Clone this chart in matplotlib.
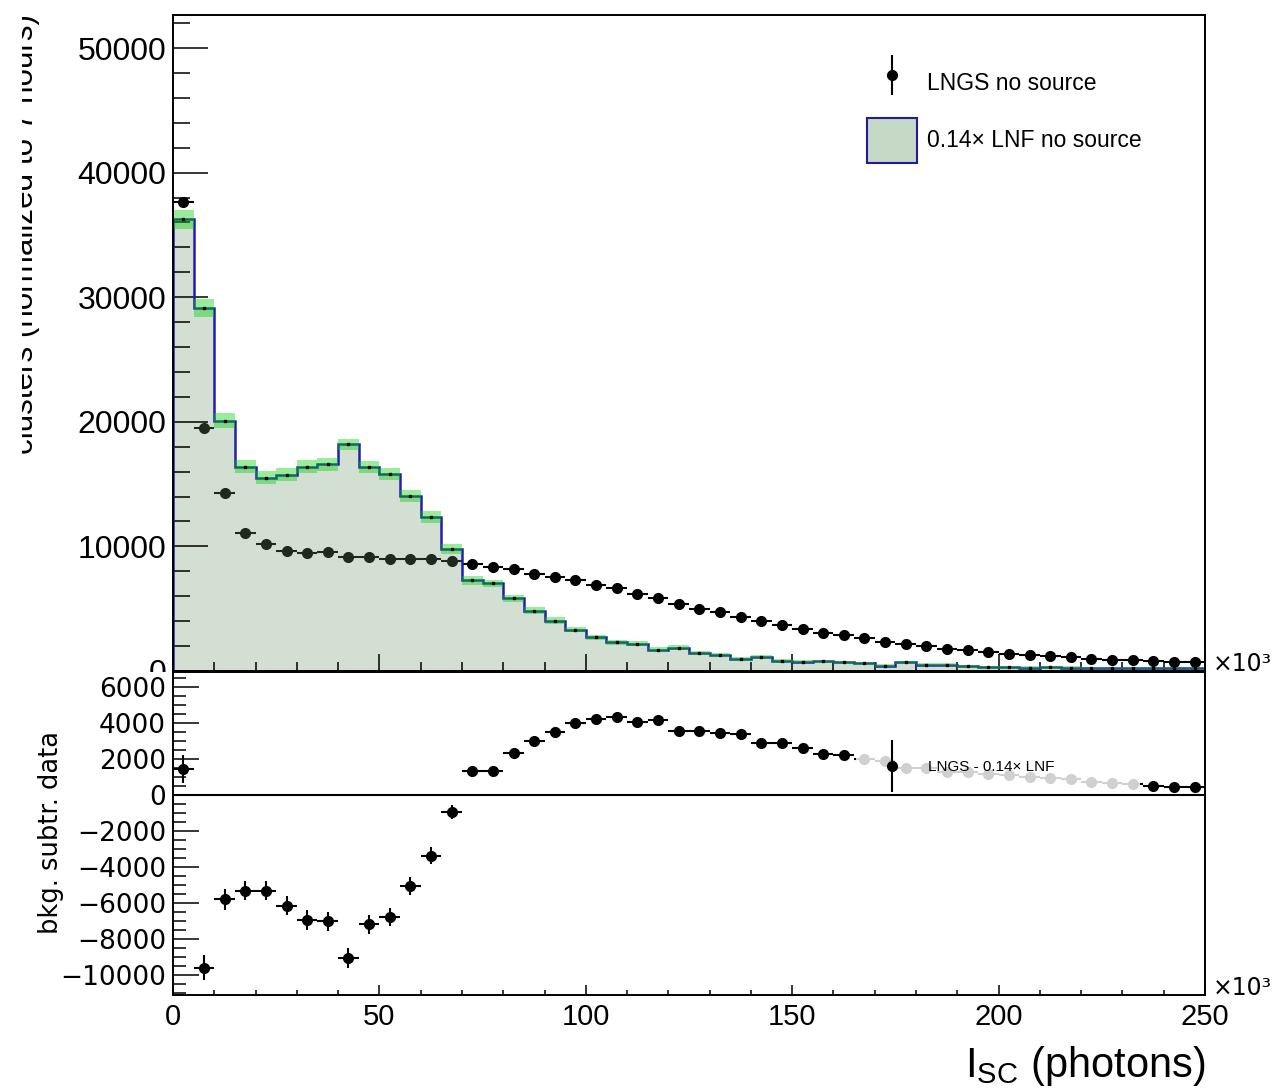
import numpy as np
import matplotlib
matplotlib.use('Agg')
import matplotlib.pyplot as plt
import matplotlib.patches as mpatches
from matplotlib.container import ErrorbarContainer
from matplotlib.legend_handler import HandlerErrorbar
from matplotlib.ticker import MultipleLocator

plt.rcParams['font.family'] = ['Liberation Sans', 'DejaVu Sans']
plt.rcParams['mathtext.default'] = 'regular'

# binning: 50 bins of 5 (x10^3 photons) from 0 to 250
edges = np.arange(0, 255, 5)
centers = edges[:-1] + 2.5

# LNGS no source (data points)
lngs = np.array([37680, 19520, 14290, 11090, 10210, 9620, 9460, 9570, 9140, 9170,
                 9010, 8980, 8980, 8850, 8600, 8350, 8160, 7810, 7520, 7300,
                 6900, 6640, 6210, 5890, 5410, 4980, 4740, 4370, 4000, 3700,
                 3380, 3030, 2900, 2640, 2320, 2190, 2000, 1780, 1650, 1490,
                 1380, 1280, 1230, 1150, 960, 900, 860, 780, 720, 700])

# 0.14x LNF no source (histogram)
lnf = np.array([36240, 29120, 20080, 16400, 15520, 15760, 16400, 16590, 18210, 16350,
                15790, 14030, 12350, 9790, 7280, 7040, 5840, 4830, 4050, 3310,
                2700, 2320, 2170, 1710, 1870, 1440, 1280, 990, 1120, 830,
                760, 770, 700, 620, 430, 710, 500, 500, 390, 320,
                290, 280, 300, 280, 240, 230, 250, 260, 260, 240])

# half width of the green error band on the histogram
lnf_band = np.array([770, 710, 590, 540, 510, 500, 510, 510, 450, 480,
                     470, 470, 470, 430, 360, 300, 290, 290, 290, 220,
                     210, 200, 200, 190, 190, 180, 180, 170, 170, 160,
                     150, 150, 140, 140, 130, 130, 130, 120, 120, 120,
                     110, 110, 110, 110, 100, 100, 100, 100, 100, 100])

# vertical errors on the subtracted points
resid_err = np.array([800, 700, 580, 530, 530, 520, 540, 530, 560, 530,
                      510, 480, 460, 400, 300, 290, 290, 290, 290, 230,
                      220, 210, 210, 200, 200, 190, 190, 180, 180, 170,
                      160, 160, 150, 150, 140, 140, 140, 130, 130, 130,
                      120, 120, 120, 120, 110, 110, 110, 110, 110, 110])

resid = lngs - lnf

W, H = 1272, 1090
fig = plt.figure(figsize=(W / 100, H / 100), dpi=100)

def px(x0, y0, x1, y1):
    # pixel box (top-left origin) -> figure fraction rect
    return [x0 / W, 1 - y1 / H, (x1 - x0) / W, (y1 - y0) / H]

ax1 = fig.add_axes(px(173, 15, 1205, 671))
ax2 = fig.add_axes(px(173, 672, 1205, 995), zorder=1)

# ---- top panel ----
ax1.errorbar(centers, lngs, xerr=2.5, fmt='o', ms=7, color='k',
             elinewidth=1.5, capsize=0, zorder=1)
ax1.stairs(lnf, edges, baseline=0, fill=True, color='#679467', alpha=0.29, lw=0, zorder=1.5)
ax1.stairs(lnf, edges, baseline=0, color='#2020a8', lw=1.8, zorder=1.6)
ax1.bar(centers, 2 * lnf_band, bottom=lnf - lnf_band, width=5, color='#00d000',
        alpha=0.4, lw=0, zorder=1.7)
ax1.plot(centers, lnf, 's', ms=2, color='k', zorder=1.8)

ax1.set_xlim(0, 250)
ax1.set_ylim(0, 52650)
ax1.xaxis.set_major_locator(MultipleLocator(50))
ax1.xaxis.set_minor_locator(MultipleLocator(10))
ax1.yaxis.set_major_locator(MultipleLocator(10000))
ax1.yaxis.set_minor_locator(MultipleLocator(2000))
ax1.tick_params(which='both', direction='in', top=False, right=False,
                labelbottom=False, width=1.1)
ax1.tick_params(axis='y', which='major', length=25, labelsize=23, pad=5)
ax1.tick_params(axis='y', which='minor', length=12)
ax1.tick_params(axis='x', which='major', length=12)
ax1.tick_params(axis='x', which='minor', length=6.5)
for s in ax1.spines.values():
    s.set_linewidth(1.4)

h1 = ax1.errorbar([np.nan], [np.nan], yerr=[1], fmt='o', ms=7, color='k', elinewidth=1.5)
p1 = mpatches.Patch(facecolor='#c6d8c6', edgecolor='#1c1c9c', lw=1.5)
ax1.legend([h1, p1], ['LNGS no source', '0.14\u00d7 LNF no source'],
           loc='upper left', bbox_to_anchor=(867 / W, 1 - 60 / H),
           bbox_transform=fig.transFigure, frameon=False, fontsize=16.5,
           handlelength=2.2, handleheight=2.68, handletextpad=0.43,
           labelspacing=0.53, borderpad=0, borderaxespad=0, numpoints=1,
           handler_map={ErrorbarContainer: HandlerErrorbar(yerr_size=0.87)})

# ---- bottom panel ----
ax2.errorbar(centers, resid, xerr=2.5, yerr=resid_err, fmt='o', ms=7, color='k',
             elinewidth=1.5, capsize=0, zorder=2)
ax2.axhline(0, color='k', lw=1.5, zorder=1.5)
ax2.set_xlim(0, 250)
ax2.set_ylim(-11110, 6830)
ax2.xaxis.set_major_locator(MultipleLocator(50))
ax2.xaxis.set_minor_locator(MultipleLocator(10))
ax2.yaxis.set_major_locator(MultipleLocator(2000))
ax2.yaxis.set_minor_locator(MultipleLocator(500))
ax2.tick_params(which='both', direction='in', top=False, right=False, width=1.1)
ax2.tick_params(axis='y', which='major', length=18.7, labelsize=19, pad=5,
                labelfontfamily='DejaVu Sans')
ax2.tick_params(axis='y', which='minor', length=9.4)
ax2.tick_params(axis='x', which='major', length=7.2, labelsize=21, pad=6)
ax2.tick_params(axis='x', which='minor', length=3.6)
for s in ax2.spines.values():
    s.set_linewidth(1.4)

# semi-transparent legend background that greys out the points beneath
ax2.add_patch(mpatches.Rectangle((856 / W, 1 - 793 / H), (1140 - 856) / W, 55 / H,
                                 transform=fig.transFigure, facecolor='white',
                                 alpha=0.82, lw=0, zorder=3))
h2 = ax2.errorbar([np.nan], [np.nan], yerr=[1], fmt='o', ms=7, color='k', elinewidth=1.5)
ax2.legend([h2], ['LNGS - 0.14\u00d7 LNF'], loc='center left',
           bbox_to_anchor=((892 - 23.7) / W, 1 - 767 / H),
           bbox_transform=fig.transFigure, frameon=False, fontsize=11,
           handlelength=3.08, handletextpad=0.8, borderpad=0, borderaxespad=0,
           numpoints=1, handler_map={ErrorbarContainer: HandlerErrorbar(yerr_size=1.7)})

# lower pad covers the bottom half of the top panel's "0" label
fig.add_artist(mpatches.Rectangle((0, 0), 172 / W, (H - 672) / H, transform=fig.transFigure,
                                  facecolor='white', lw=0, zorder=0.5))

# axis titles
fig.text(33 / W, 1 - 14 / H, 'clusters (normalized to 7 hours)', rotation=90,
         rotation_mode='anchor', ha='right', va='baseline', fontsize=22.6)
fig.add_artist(mpatches.Rectangle((0, 0), 22 / W, 1, transform=fig.transFigure,
                                  facecolor='white', lw=0, zorder=10))
fig.text(51 / W, 1 - 833 / H, 'bkg. subtr. data', rotation=90, ha='center',
         va='center', fontsize=18.5, family='DejaVu Sans')
fig.text(1205 / W, 1 - 1077 / H, 'I$_{SC}$ (photons)', ha='right', va='baseline',
         fontsize=30)

# x axis multipliers
fig.text(1213 / W, 1 - 671 / H, '\u00d710\u00b3', ha='left', va='baseline',
         fontsize=17, family='DejaVu Sans')
fig.text(1213 / W, 1 - 995 / H, '\u00d710\u00b3', ha='left', va='baseline',
         fontsize=17, family='DejaVu Sans')

fig.savefig('out.png', dpi=100)
